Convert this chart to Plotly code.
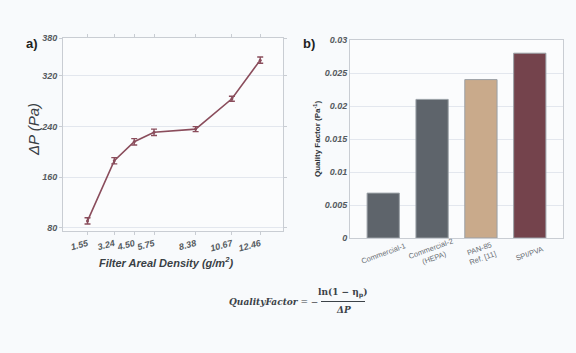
import plotly.graph_objects as go

# Panel a data
density = [1.55, 3.24, 4.50, 5.75, 8.38, 10.67, 12.46]
density_labels = ["1.55", "3.24", "4.50", "5.75", "8.38", "10.67", "12.46"]
pressure_drop = [91, 186, 216, 231, 236, 284, 345]
pressure_err = [5, 5, 5, 5, 4, 4, 5]

# Panel b data
filters = ["Commercial-1", "Commercial-2<br>(HEPA)", "PAN-85<br>Ref. [11]", "SPI/PVA"]
quality_factor = [0.0068, 0.021, 0.024, 0.028]
bar_colors = ["#5e646b", "#5e646b", "#c9aa8b", "#74434c"]

W, H = 576, 353
def px(x): return x / W
def py(y): return 1 - y / H

fig = go.Figure()

fig.add_trace(go.Scatter(
    x=density, y=pressure_drop, mode="lines+markers",
    line=dict(color="#8a4d5c", width=1.6),
    marker=dict(size=3, color="#8a4d5c"),
    error_y=dict(type="data", array=pressure_err, color="#8a4d5c", thickness=1.4, width=3),
    xaxis="x", yaxis="y", showlegend=False))

fig.add_trace(go.Bar(
    x=filters, y=quality_factor, marker=dict(color=bar_colors, line=dict(color="#9aa0a6", width=1)),
    width=0.66, xaxis="x2", yaxis="y2", showlegend=False))

tickfont = dict(family="Liberation Sans", size=9, color="#555a60", style="italic", weight="bold")
gridc = "#e3e7ee"
framec = "#c9cdd3"

fig.update_layout(
    width=W, height=H, margin=dict(l=0, r=0, t=0, b=0),
    paper_bgcolor="#f8fafc", plot_bgcolor="#fbfcfd",
    xaxis=dict(domain=[px(63), px(283)], range=[0, 13.9], tickvals=density, ticktext=density_labels,
               tickangle=-15, tickfont=tickfont, showgrid=False, showline=True, linecolor=framec,
               mirror="ticks", ticks="outside", ticklen=3, tickcolor=framec, zeroline=False,
               automargin=False),
    yaxis=dict(domain=[py(231), py(38)], range=[75, 380], tickvals=[80, 160, 240, 320, 380],
               tickfont=tickfont, showgrid=True, gridcolor=gridc, showline=True, linecolor=framec,
               mirror="ticks", ticks="outside", ticklen=3, tickcolor=framec, zeroline=False,
               automargin=False),
    xaxis2=dict(domain=[px(350), px(563)], range=[-0.68, 3.68], anchor="y2",
                showticklabels=False,
                showgrid=False, showline=True, linecolor=framec, mirror=True, ticks="",
                automargin=False),
    yaxis2=dict(domain=[py(238), py(40)], range=[0, 0.03], anchor="x2",
                tickvals=[0, 0.005, 0.01, 0.015, 0.02, 0.025, 0.03],
                ticktext=["0", "0.005", "0.01", "0.015", "0.02", "0.025", "0.03"],
                tickfont=tickfont, showgrid=True, gridcolor=gridc, showline=True, linecolor=framec,
                mirror=True, zeroline=False, automargin=False),
    bargap=0.3,
)

def note(x, y, text, font, angle=0, xanchor="center"):
    fig.add_annotation(x=px(x), y=py(y), xref="paper", yref="paper", text=text,
                       showarrow=False, font=font, textangle=angle,
                       xanchor=xanchor, yanchor="middle")

annot_font = dict(family="Liberation Sans", size=13, color="#222")
note(32, 43, "<b>a)</b>", annot_font)
note(309, 43, "<b>b)</b>", annot_font)

# axis titles
note(33, 130, "<i>ΔP (Pa)</i>", dict(family="Liberation Sans", size=15, color="#3a3f45"), angle=-90)
note(166, 262, "<b><i>Filter Areal Density (g/m<sup>2</sup>)</i></b>",
     dict(family="Liberation Sans", size=11, color="#3a3f45"))
note(317, 139, "<b>Quality Factor (Pa<sup>-1</sup>)</b>",
     dict(family="Liberation Sans", size=8, color="#2f3439"), angle=-90)

# centred, slanted category labels under the bars
catfont = dict(family="Liberation Sans", size=7.5, color="#6a6f75")
for cat in filters:
    fig.add_annotation(x=cat, y=py(253), xref="x2", yref="paper", text=cat,
                       showarrow=False, font=catfont, textangle=-20,
                       xanchor="center", yanchor="middle")

ffont = dict(family="DejaVu Serif", size=9, color="#3c4248")
note(320, 302, "<b><i>QualityFactor</i></b> = −", ffont, xanchor="right")
note(343, 293, "<b>ln(1 − η<sub>p</sub>)</b>", ffont)
note(343, 310, "<b><i>ΔP</i></b>", ffont)
fig.add_shape(type="line", xref="paper", yref="paper", x0=px(321), x1=px(365), y0=py(301.5), y1=py(301.5),
              line=dict(color="#3c4248", width=1))

fig.write_html("out.html", config={"displayModeBar": False},
               post_script="document.body.style.margin='0';document.body.style.overflow='hidden';")
